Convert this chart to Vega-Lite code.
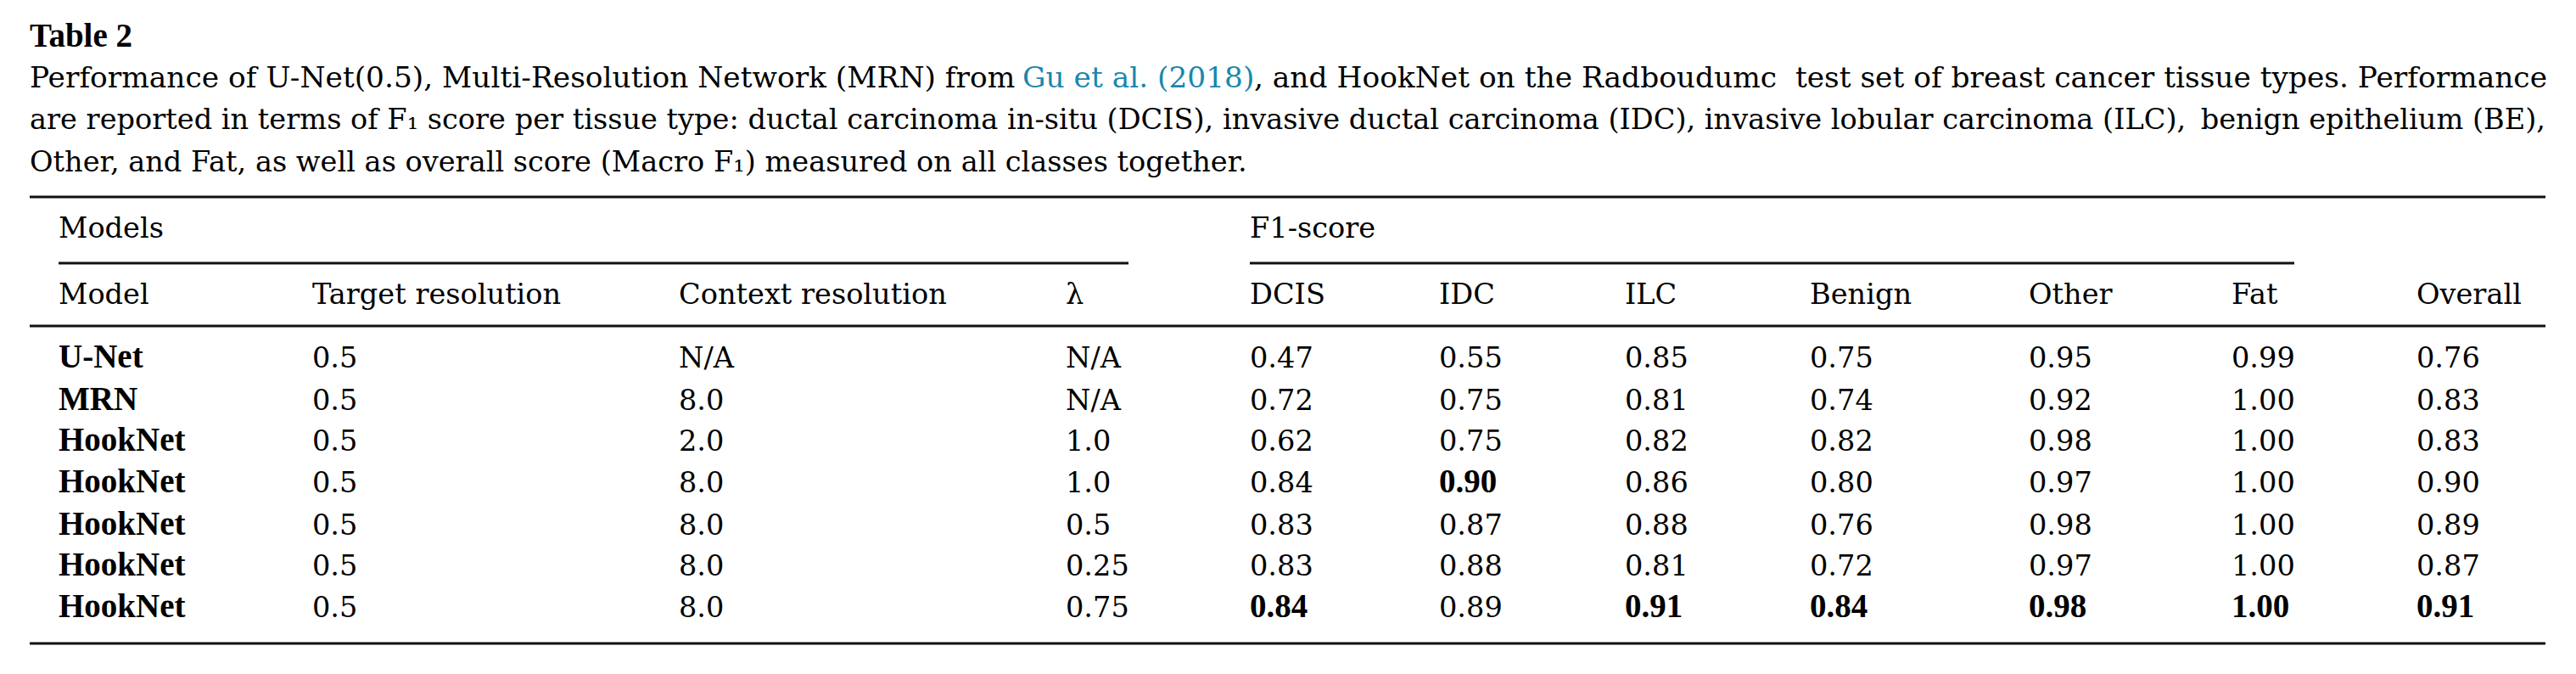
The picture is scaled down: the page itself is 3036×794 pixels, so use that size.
{
  "$schema": "https://vega.github.io/schema/vega-lite/v6.json",
  "width": 3036,
  "height": 794,
  "autosize": {"type": "none"},
  "padding": 0,
  "background": "white",
  "config": {
    "view": {"stroke": null},
    "text": {"font": "DejaVu Serif", "fontSize": 33.6, "baseline": "alphabetic", "align": "left", "color": "#000000"}
  },
  "datasets": {
    "rules": [
      {"col": 0, "col2": 12, "row": 4},
      {"col": 1, "col2": 13, "row": 6},
      {"col": 5, "col2": 14, "row": 6},
      {"col": 0, "col2": 12, "row": 8},
      {"col": 0, "col2": 12, "row": 16}
    ],
    "cells": [
      {"text": "Table 2", "col": 0, "row": 0, "style": "b"},
      {"text": "Performance of U-Net(0.5), Multi-Resolution Network (MRN) from", "col": 0, "row": 1, "style": "n"},
      {"text": "Gu et al. (2018)", "col": 15, "row": 1, "style": "l"},
      {"text": ", and HookNet on the Radboudumc", "col": 16, "row": 1, "style": "n"},
      {"text": "test set of breast cancer tissue types. Performance", "col": 17, "row": 1, "style": "r"},
      {"text": "are reported in terms of F₁ score per tissue type: ductal carcinoma in-situ (DCIS), invasive ductal carcinoma (IDC), invasive lobular carcinoma (ILC),", "col": 0, "row": 2, "style": "n"},
      {"text": "benign epithelium (BE),", "col": 12, "row": 2, "style": "r"},
      {"text": "Other, and Fat, as well as overall score (Macro F₁) measured on all classes together.", "col": 0, "row": 3, "style": "n"},

      {"text": "Models", "col": 1, "row": 5, "style": "n"},
      {"text": "F1-score", "col": 5, "row": 5, "style": "n"},

      {"text": "Model", "col": 1, "row": 7, "style": "n"},
      {"text": "Target resolution", "col": 2, "row": 7, "style": "n"},
      {"text": "Context resolution", "col": 3, "row": 7, "style": "n"},
      {"text": "λ", "col": 4, "row": 7, "style": "n"},
      {"text": "DCIS", "col": 5, "row": 7, "style": "n"},
      {"text": "IDC", "col": 6, "row": 7, "style": "n"},
      {"text": "ILC", "col": 7, "row": 7, "style": "n"},
      {"text": "Benign", "col": 8, "row": 7, "style": "n"},
      {"text": "Other", "col": 9, "row": 7, "style": "n"},
      {"text": "Fat", "col": 10, "row": 7, "style": "n"},
      {"text": "Overall", "col": 11, "row": 7, "style": "n"},

      {"text": "U-Net", "col": 1, "row": 9, "style": "b"},
      {"text": "0.5", "col": 2, "row": 9, "style": "n"},
      {"text": "N/A", "col": 3, "row": 9, "style": "n"},
      {"text": "N/A", "col": 4, "row": 9, "style": "n"},
      {"text": "0.47", "col": 5, "row": 9, "style": "n"},
      {"text": "0.55", "col": 6, "row": 9, "style": "n"},
      {"text": "0.85", "col": 7, "row": 9, "style": "n"},
      {"text": "0.75", "col": 8, "row": 9, "style": "n"},
      {"text": "0.95", "col": 9, "row": 9, "style": "n"},
      {"text": "0.99", "col": 10, "row": 9, "style": "n"},
      {"text": "0.76", "col": 11, "row": 9, "style": "n"},

      {"text": "MRN", "col": 1, "row": 10, "style": "b"},
      {"text": "0.5", "col": 2, "row": 10, "style": "n"},
      {"text": "8.0", "col": 3, "row": 10, "style": "n"},
      {"text": "N/A", "col": 4, "row": 10, "style": "n"},
      {"text": "0.72", "col": 5, "row": 10, "style": "n"},
      {"text": "0.75", "col": 6, "row": 10, "style": "n"},
      {"text": "0.81", "col": 7, "row": 10, "style": "n"},
      {"text": "0.74", "col": 8, "row": 10, "style": "n"},
      {"text": "0.92", "col": 9, "row": 10, "style": "n"},
      {"text": "1.00", "col": 10, "row": 10, "style": "n"},
      {"text": "0.83", "col": 11, "row": 10, "style": "n"},

      {"text": "HookNet", "col": 1, "row": 11, "style": "b"},
      {"text": "0.5", "col": 2, "row": 11, "style": "n"},
      {"text": "2.0", "col": 3, "row": 11, "style": "n"},
      {"text": "1.0", "col": 4, "row": 11, "style": "n"},
      {"text": "0.62", "col": 5, "row": 11, "style": "n"},
      {"text": "0.75", "col": 6, "row": 11, "style": "n"},
      {"text": "0.82", "col": 7, "row": 11, "style": "n"},
      {"text": "0.82", "col": 8, "row": 11, "style": "n"},
      {"text": "0.98", "col": 9, "row": 11, "style": "n"},
      {"text": "1.00", "col": 10, "row": 11, "style": "n"},
      {"text": "0.83", "col": 11, "row": 11, "style": "n"},

      {"text": "HookNet", "col": 1, "row": 12, "style": "b"},
      {"text": "0.5", "col": 2, "row": 12, "style": "n"},
      {"text": "8.0", "col": 3, "row": 12, "style": "n"},
      {"text": "1.0", "col": 4, "row": 12, "style": "n"},
      {"text": "0.84", "col": 5, "row": 12, "style": "n"},
      {"text": "0.90", "col": 6, "row": 12, "style": "b"},
      {"text": "0.86", "col": 7, "row": 12, "style": "n"},
      {"text": "0.80", "col": 8, "row": 12, "style": "n"},
      {"text": "0.97", "col": 9, "row": 12, "style": "n"},
      {"text": "1.00", "col": 10, "row": 12, "style": "n"},
      {"text": "0.90", "col": 11, "row": 12, "style": "n"},

      {"text": "HookNet", "col": 1, "row": 13, "style": "b"},
      {"text": "0.5", "col": 2, "row": 13, "style": "n"},
      {"text": "8.0", "col": 3, "row": 13, "style": "n"},
      {"text": "0.5", "col": 4, "row": 13, "style": "n"},
      {"text": "0.83", "col": 5, "row": 13, "style": "n"},
      {"text": "0.87", "col": 6, "row": 13, "style": "n"},
      {"text": "0.88", "col": 7, "row": 13, "style": "n"},
      {"text": "0.76", "col": 8, "row": 13, "style": "n"},
      {"text": "0.98", "col": 9, "row": 13, "style": "n"},
      {"text": "1.00", "col": 10, "row": 13, "style": "n"},
      {"text": "0.89", "col": 11, "row": 13, "style": "n"},

      {"text": "HookNet", "col": 1, "row": 14, "style": "b"},
      {"text": "0.5", "col": 2, "row": 14, "style": "n"},
      {"text": "8.0", "col": 3, "row": 14, "style": "n"},
      {"text": "0.25", "col": 4, "row": 14, "style": "n"},
      {"text": "0.83", "col": 5, "row": 14, "style": "n"},
      {"text": "0.88", "col": 6, "row": 14, "style": "n"},
      {"text": "0.81", "col": 7, "row": 14, "style": "n"},
      {"text": "0.72", "col": 8, "row": 14, "style": "n"},
      {"text": "0.97", "col": 9, "row": 14, "style": "n"},
      {"text": "1.00", "col": 10, "row": 14, "style": "n"},
      {"text": "0.87", "col": 11, "row": 14, "style": "n"},

      {"text": "HookNet", "col": 1, "row": 15, "style": "b"},
      {"text": "0.5", "col": 2, "row": 15, "style": "n"},
      {"text": "8.0", "col": 3, "row": 15, "style": "n"},
      {"text": "0.75", "col": 4, "row": 15, "style": "n"},
      {"text": "0.84", "col": 5, "row": 15, "style": "b"},
      {"text": "0.89", "col": 6, "row": 15, "style": "n"},
      {"text": "0.91", "col": 7, "row": 15, "style": "b"},
      {"text": "0.84", "col": 8, "row": 15, "style": "b"},
      {"text": "0.98", "col": 9, "row": 15, "style": "b"},
      {"text": "1.00", "col": 10, "row": 15, "style": "b"},
      {"text": "0.91", "col": 11, "row": 15, "style": "b"}
    ]
  },
  "encoding": {
    "x": {
      "field": "col",
      "type": "quantitative",
      "axis": null,
      "scale": {
        "domain": [0, 1, 2, 3, 4, 5, 6, 7, 8, 9, 10, 11, 12, 13, 14, 15, 16, 17],
        "range": [35, 69, 368, 800, 1256, 1473, 1696, 1915, 2133, 2391, 2630, 2848, 3000, 1330, 2704, 1205, 1478, 3002],
        "zero": false,
        "nice": false
      }
    },
    "y": {
      "field": "row",
      "type": "quantitative",
      "axis": null,
      "scale": {
        "domain": [0, 1, 2, 3, 4, 5, 6, 7, 8, 9, 10, 11, 12, 13, 14, 15, 16],
        "range": [55, 103, 152, 202, 232, 280, 310, 358, 384, 433, 483, 531, 580, 630, 678, 727, 758],
        "zero": false,
        "nice": false
      }
    }
  },
  "layer": [
    {
      "data": {"name": "rules"},
      "mark": {"type": "rule", "strokeWidth": 3, "color": "#111111"},
      "encoding": {"x2": {"field": "col2"}}
    },
    {
      "data": {"name": "cells"},
      "transform": [{"filter": "datum.style === 'n' && datum.row !== 1"}],
      "mark": {"type": "text"},
      "encoding": {"text": {"field": "text", "type": "nominal"}}
    },
    {
      "data": {"name": "cells"},
      "transform": [{"filter": "datum.style === 'n' && datum.row === 1"}],
      "mark": {"type": "text", "fontSize": 34.4},
      "encoding": {"text": {"field": "text", "type": "nominal"}}
    },
    {
      "data": {"name": "cells"},
      "transform": [{"filter": "datum.style === 'b'"}],
      "mark": {"type": "text", "font": "Liberation Serif", "fontSize": 39, "fontWeight": "bold"},
      "encoding": {"text": {"field": "text", "type": "nominal"}}
    },
    {
      "data": {"name": "cells"},
      "transform": [{"filter": "datum.style === 'l'"}],
      "mark": {"type": "text", "fontSize": 34.4, "color": "#1a87ad"},
      "encoding": {"text": {"field": "text", "type": "nominal"}}
    },
    {
      "data": {"name": "cells"},
      "transform": [{"filter": "datum.style === 'r' && datum.row === 1"}],
      "mark": {"type": "text", "fontSize": 34.4, "align": "right"},
      "encoding": {"text": {"field": "text", "type": "nominal"}}
    },
    {
      "data": {"name": "cells"},
      "transform": [{"filter": "datum.style === 'r' && datum.row !== 1"}],
      "mark": {"type": "text", "align": "right"},
      "encoding": {"text": {"field": "text", "type": "nominal"}}
    }
  ]
}
